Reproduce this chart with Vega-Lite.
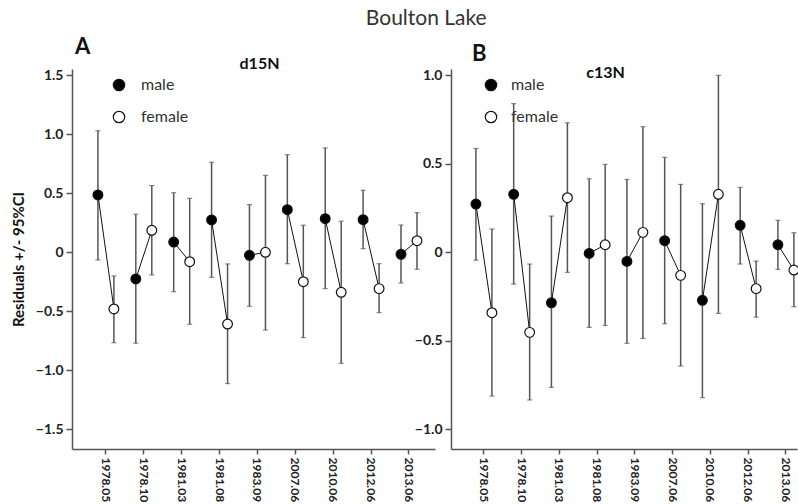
{
  "$schema": "https://vega.github.io/schema/vega-lite/v6.json",
  "padding": {"left": 11, "top": 8, "right": 0, "bottom": 0},
  "background": "white",
  "title": {"text": "Boulton Lake", "font": "Lato", "fontSize": 21, "fontWeight": "normal", "color": "#333", "anchor": "middle", "dx": 20, "dy": 4, "offset": 11},
  "datasets": {
    "d15N": [
      {"date": "1978.05", "sex": "male", "value": 0.486, "lo": -0.065, "hi": 1.03},
      {"date": "1978.05", "sex": "female", "value": -0.48, "lo": -0.766, "hi": -0.2},
      {"date": "1978.10", "sex": "male", "value": -0.226, "lo": -0.77, "hi": 0.322},
      {"date": "1978.10", "sex": "female", "value": 0.186, "lo": -0.192, "hi": 0.565},
      {"date": "1981.03", "sex": "male", "value": 0.087, "lo": -0.334, "hi": 0.505},
      {"date": "1981.03", "sex": "female", "value": -0.08, "lo": -0.61, "hi": 0.457},
      {"date": "1981.08", "sex": "male", "value": 0.274, "lo": -0.212, "hi": 0.763},
      {"date": "1981.08", "sex": "female", "value": -0.608, "lo": -1.113, "hi": -0.099},
      {"date": "1983.09", "sex": "male", "value": -0.026, "lo": -0.458, "hi": 0.404},
      {"date": "1983.09", "sex": "female", "value": 0.0, "lo": -0.659, "hi": 0.652},
      {"date": "2007.06", "sex": "male", "value": 0.361, "lo": -0.097, "hi": 0.827},
      {"date": "2007.06", "sex": "female", "value": -0.249, "lo": -0.723, "hi": 0.229},
      {"date": "2010.06", "sex": "male", "value": 0.285, "lo": -0.308, "hi": 0.884},
      {"date": "2010.06", "sex": "female", "value": -0.339, "lo": -0.941, "hi": 0.263},
      {"date": "2012.06", "sex": "male", "value": 0.276, "lo": 0.031, "hi": 0.525},
      {"date": "2012.06", "sex": "female", "value": -0.308, "lo": -0.511, "hi": -0.097},
      {"date": "2013.06", "sex": "male", "value": -0.017, "lo": -0.26, "hi": 0.231},
      {"date": "2013.06", "sex": "female", "value": 0.098, "lo": -0.144, "hi": 0.336}
    ],
    "c13N": [
      {"date": "1978.05", "sex": "male", "value": 0.273, "lo": -0.044, "hi": 0.587},
      {"date": "1978.05", "sex": "female", "value": -0.341, "lo": -0.812, "hi": 0.132},
      {"date": "1978.10", "sex": "male", "value": 0.328, "lo": -0.179, "hi": 0.84},
      {"date": "1978.10", "sex": "female", "value": -0.452, "lo": -0.834, "hi": -0.066},
      {"date": "1981.03", "sex": "male", "value": -0.285, "lo": -0.763, "hi": 0.205},
      {"date": "1981.03", "sex": "female", "value": 0.309, "lo": -0.113, "hi": 0.732},
      {"date": "1981.08", "sex": "male", "value": -0.006, "lo": -0.424, "hi": 0.416},
      {"date": "1981.08", "sex": "female", "value": 0.043, "lo": -0.413, "hi": 0.497},
      {"date": "1983.09", "sex": "male", "value": -0.051, "lo": -0.514, "hi": 0.412},
      {"date": "1983.09", "sex": "female", "value": 0.113, "lo": -0.486, "hi": 0.71},
      {"date": "2007.06", "sex": "male", "value": 0.066, "lo": -0.403, "hi": 0.537},
      {"date": "2007.06", "sex": "female", "value": -0.13, "lo": -0.642, "hi": 0.384},
      {"date": "2010.06", "sex": "male", "value": -0.271, "lo": -0.821, "hi": 0.275},
      {"date": "2010.06", "sex": "female", "value": 0.328, "lo": -0.345, "hi": 1.0},
      {"date": "2012.06", "sex": "male", "value": 0.153, "lo": -0.066, "hi": 0.367},
      {"date": "2012.06", "sex": "female", "value": -0.205, "lo": -0.366, "hi": -0.049},
      {"date": "2013.06", "sex": "male", "value": 0.043, "lo": -0.096, "hi": 0.181},
      {"date": "2013.06", "sex": "female", "value": -0.1, "lo": -0.307, "hi": 0.111}
    ]
  },
  "bounds": "flush",
  "spacing": 16,
  "resolve": {"scale": {"x": "independent", "y": "independent", "fill": "independent"}, "legend": {"fill": "independent"}},
  "hconcat": [
    {
      "title": {"text": "A", "anchor": "start", "frame": "group", "font": "Lato", "fontSize": 22, "fontWeight": "bold", "color": "#111", "dx": 3, "dy": 8},
      "width": 363,
      "height": 380,
      "data": {"name": "d15N"},
      "resolve": {"axis": {"x": "independent"}},
      "layer": [
        {
          "mark": {"type": "rule", "color": "#555", "strokeWidth": 1.5},
          "encoding": {
            "x": {"field": "date", "type": "ordinal", "sort": null, "scale": {"type": "band", "paddingInner": 0.578, "paddingOuter": 0.58, "align": 0.59},
              "axis": {"orient": "bottom", "title": null, "labelAngle": 90, "labelAlign": "left", "labelBaseline": "middle", "labelFont": "Lato", "labelFontSize": 12, "labelFontWeight": "bold", "labelColor": "#222", "labelPadding": 3, "tickSize": 5, "tickColor": "#555", "tickWidth": 1.5, "domainColor": "#555", "domainWidth": 1.5}},
            "xOffset": {"field": "sex", "type": "nominal", "scale": {"type": "point", "domain": ["male", "female"], "padding": 0}},
            "y": {"field": "lo", "type": "quantitative", "scale": {"domain": [-1.667, 1.553], "nice": false, "zero": false},
              "axis": {"title": "Residuals +/- 95%CI", "titleFont": "Lato", "titleFontSize": 15, "titleFontWeight": "bold", "titleColor": "#111", "titlePadding": 9, "values": [-1.5, -1, -0.5, 0, 0.5, 1, 1.5], "labelExpr": "datum.value == 0 ? '0' : format(datum.value, '.1f')", "labelFont": "Lato", "labelFontSize": 14, "labelFontWeight": "bold", "labelColor": "#222", "labelPadding": 3, "tickSize": 6, "tickColor": "#555", "tickWidth": 1.5, "domainColor": "#555", "domainWidth": 1.5, "grid": false}},
            "y2": {"field": "hi"}
          }
        },
        {
          "mark": {"type": "tick", "color": "#555", "size": 5, "thickness": 1.2},
          "encoding": {
            "x": {"field": "date", "type": "ordinal", "sort": null, "axis": null},
            "xOffset": {"field": "sex", "type": "nominal"},
            "y": {"field": "lo", "type": "quantitative"}
          }
        },
        {
          "mark": {"type": "tick", "color": "#555", "size": 5, "thickness": 1.2},
          "encoding": {
            "x": {"field": "date", "type": "ordinal", "sort": null, "axis": null},
            "xOffset": {"field": "sex", "type": "nominal"},
            "y": {"field": "hi", "type": "quantitative"}
          }
        },
        {
          "mark": {"type": "line", "color": "#111", "strokeWidth": 1},
          "encoding": {
            "x": {"field": "date", "type": "ordinal", "sort": null,
              "axis": {"orient": "top", "title": "d15N", "titleFont": "Lato", "titleFontSize": 16, "titleFontWeight": "bold", "titleColor": "#111", "titleX": 187, "titleAlign": "center", "titleY": -1, "titleBaseline": "alphabetic", "labels": false, "ticks": false, "domain": false}},
            "xOffset": {"field": "sex", "type": "nominal"},
            "y": {"field": "value", "type": "quantitative"},
            "detail": {"field": "date"}
          }
        },
        {
          "mark": {"type": "circle", "size": 95, "stroke": "#111", "strokeWidth": 1.2, "opacity": 1},
          "encoding": {
            "x": {"field": "date", "type": "ordinal", "sort": null, "axis": null},
            "xOffset": {"field": "sex", "type": "nominal"},
            "y": {"field": "value", "type": "quantitative"},
            "fill": {"field": "sex", "type": "nominal", "scale": {"domain": ["male", "female"], "range": ["#000000", "#ffffff"]},
              "legend": {"orient": "none", "legendX": 39, "legendY": 8, "title": null, "symbolType": "circle", "symbolSize": 130, "symbolStrokeColor": "#111", "symbolStrokeWidth": 1.2, "labelFont": "Lato", "labelFontSize": 16, "labelColor": "#333", "labelOffset": 14, "rowPadding": 14, "padding": 0}}
          }
        }
      ]
    },
    {
      "title": {"text": "B", "anchor": "start", "frame": "group", "font": "Lato", "fontSize": 22, "fontWeight": "bold", "color": "#111", "dx": 21, "dy": 6},
      "width": 346,
      "height": 380,
      "data": {"name": "c13N"},
      "resolve": {"axis": {"x": "independent"}},
      "layer": [
        {
          "mark": {"type": "rule", "color": "#555", "strokeWidth": 1.5},
          "encoding": {
            "x": {"field": "date", "type": "ordinal", "sort": null, "scale": {"type": "band", "paddingInner": 0.576, "paddingOuter": 0.371, "align": 0.89},
              "axis": {"orient": "bottom", "title": null, "labelAngle": 90, "labelAlign": "left", "labelBaseline": "middle", "labelFont": "Lato", "labelFontSize": 12, "labelFontWeight": "bold", "labelColor": "#222", "labelPadding": 3, "tickSize": 5, "tickColor": "#555", "tickWidth": 1.5, "domainColor": "#555", "domainWidth": 1.5}},
            "xOffset": {"field": "sex", "type": "nominal", "scale": {"type": "point", "domain": ["male", "female"], "padding": 0}},
            "y": {"field": "lo", "type": "quantitative", "scale": {"domain": [-1.111, 1.036], "nice": false, "zero": false},
              "axis": {"title": null, "values": [-1, -0.5, 0, 0.5, 1], "labelExpr": "datum.value == 0 ? '0' : format(datum.value, '.1f')", "labelFont": "Lato", "labelFontSize": 14, "labelFontWeight": "bold", "labelColor": "#222", "labelPadding": 3, "tickSize": 6, "tickColor": "#555", "tickWidth": 1.5, "domainColor": "#555", "domainWidth": 1.5, "grid": false}},
            "y2": {"field": "hi"}
          }
        },
        {
          "mark": {"type": "tick", "color": "#555", "size": 5, "thickness": 1.2},
          "encoding": {
            "x": {"field": "date", "type": "ordinal", "sort": null, "axis": null},
            "xOffset": {"field": "sex", "type": "nominal"},
            "y": {"field": "lo", "type": "quantitative"}
          }
        },
        {
          "mark": {"type": "tick", "color": "#555", "size": 5, "thickness": 1.2},
          "encoding": {
            "x": {"field": "date", "type": "ordinal", "sort": null, "axis": null},
            "xOffset": {"field": "sex", "type": "nominal"},
            "y": {"field": "hi", "type": "quantitative"}
          }
        },
        {
          "mark": {"type": "line", "color": "#111", "strokeWidth": 1},
          "encoding": {
            "x": {"field": "date", "type": "ordinal", "sort": null,
              "axis": {"orient": "top", "title": "c13N", "titleFont": "Lato", "titleFontSize": 16, "titleFontWeight": "bold", "titleColor": "#111", "titleX": 154, "titleAlign": "center", "titleY": 8, "titleBaseline": "alphabetic", "labels": false, "ticks": false, "domain": false}},
            "xOffset": {"field": "sex", "type": "nominal"},
            "y": {"field": "value", "type": "quantitative"},
            "detail": {"field": "date"}
          }
        },
        {
          "mark": {"type": "circle", "size": 95, "stroke": "#111", "strokeWidth": 1.2, "opacity": 1},
          "encoding": {
            "x": {"field": "date", "type": "ordinal", "sort": null, "axis": null},
            "xOffset": {"field": "sex", "type": "nominal"},
            "y": {"field": "value", "type": "quantitative"},
            "fill": {"field": "sex", "type": "nominal", "scale": {"domain": ["male", "female"], "range": ["#000000", "#ffffff"]},
              "legend": {"orient": "none", "legendX": 32, "legendY": 8, "title": null, "symbolType": "circle", "symbolSize": 130, "symbolStrokeColor": "#111", "symbolStrokeWidth": 1.2, "labelFont": "Lato", "labelFontSize": 16, "labelColor": "#333", "labelOffset": 12, "rowPadding": 14, "padding": 0}}
          }
        }
      ]
    }
  ],
  "config": {
    "view": {"stroke": null},
    "axis": {"grid": false}
  }
}
